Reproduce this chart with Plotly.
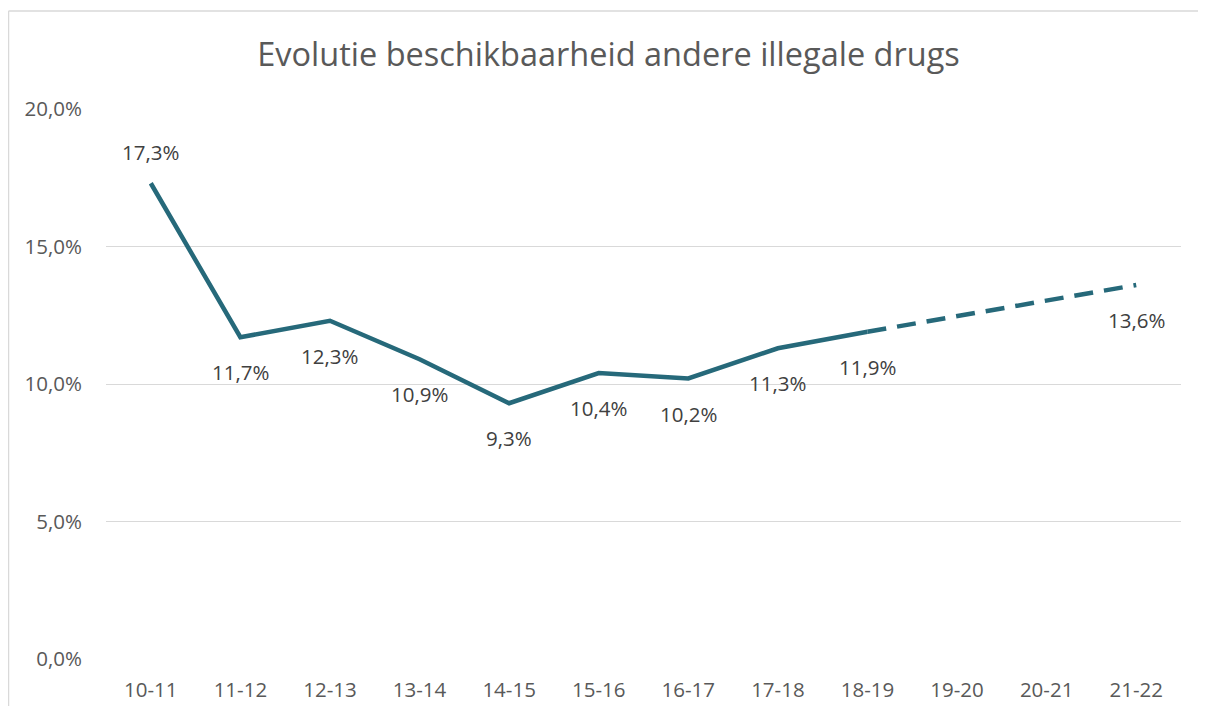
import plotly.graph_objects as go

categories = ["10-11", "11-12", "12-13", "13-14", "14-15", "15-16", "16-17",
              "17-18", "18-19", "19-20", "20-21", "21-22"]
solid_cats = ["10-11", "11-12", "12-13", "13-14", "14-15", "15-16", "16-17", "17-18", "18-19"]
solid_vals = [17.3, 11.7, 12.3, 10.9, 9.3, 10.4, 10.2, 11.3, 11.9]
dash_cats = ["18-19", "21-22"]
dash_vals = [11.9, 13.6]
label_cats = solid_cats + ["21-22"]
label_vals = solid_vals + [13.6]
label_above = [True] + [False] * 9
y_ticks = [0, 5, 10, 15, 20]
y_tick_text = ["0,0%", "5,0%", "10,0%", "15,0%", "20,0%"]

color = "#26697A"
FONT = "Open Sans, Lato, sans-serif"
# page body has an 8px margin; figure sized to fit inside the 1206x716 window
W, H = 1190, 698
L, R, T, B = 98, 17, 101, 47
pw, ph = W - L - R, H - T - B

fig = go.Figure()
fig.add_trace(go.Scatter(x=solid_cats, y=solid_vals, mode="lines",
                         line=dict(color=color, width=4.5), showlegend=False))
fig.add_trace(go.Scatter(x=dash_cats, y=dash_vals, mode="lines",
                         line=dict(color=color, width=4.5, dash="19px,11px"), showlegend=False))

for c, v, up in zip(label_cats, label_vals, label_above):
    fig.add_annotation(x=c, y=v, text=f"{v:.1f}%".replace(".", ","), showarrow=False,
                       yshift=31 if up else -35,
                       font=dict(family=FONT, size=20.5, color="#404040"))

# outer chart border (left and top edges visible)
bx = (0.5 - L) / pw
by = (H - B - 3) / ph
fig.add_shape(type="line", xref="paper", yref="paper",
              x0=bx, x1=bx, y0=by, y1=-1,
              line=dict(color="#D9D9D9", width=1.5), layer="below")
fig.add_shape(type="line", xref="paper", yref="paper",
              x0=bx, x1=2, y0=by, y1=by,
              line=dict(color="#D9D9D9", width=1.5), layer="below")

fig.update_layout(
    width=W, height=H,
    margin=dict(l=L, r=R, t=T, b=B, autoexpand=False),
    paper_bgcolor="white", plot_bgcolor="white",
    title=dict(text="Evolutie beschikbaarheid andere illegale drugs",
               x=600.5 / W, xref="container", xanchor="center",
               y=1 - 47 / H, yref="container", yanchor="middle",
               font=dict(family=FONT, size=32.5, color="#595959")),
    xaxis=dict(type="category", categoryorder="array", categoryarray=categories,
               range=[-0.5, 11.5], showgrid=False, zeroline=False, showline=False,
               automargin=False,
               tickfont=dict(family=FONT, size=20.5, color="#595959"),
               ticklabelstandoff=16),
    yaxis=dict(range=[0, 20], tickvals=y_ticks, ticktext=y_tick_text,
               showgrid=True, gridcolor="#D9D9D9", gridwidth=1.3, zeroline=False,
               showline=False, automargin=False,
               tickfont=dict(family=FONT, size=20.5, color="#595959"),
               ticklabelstandoff=23),
)

fig.write_html("out.html")
